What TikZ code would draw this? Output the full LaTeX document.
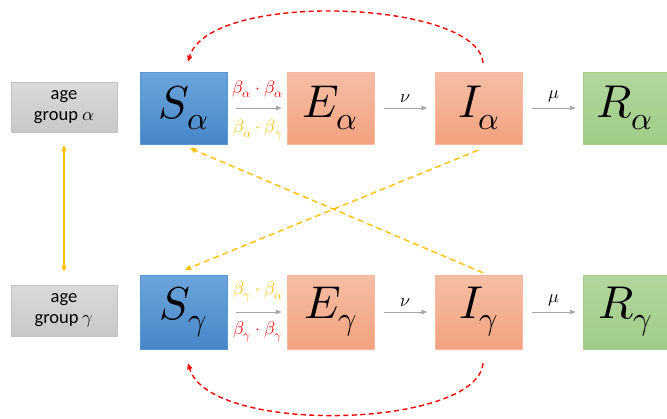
\documentclass[tikz,border=0pt]{standalone}
\usepackage{fontspec}
\usepackage{unicode-math}
\setmathfont{Latin Modern Math}
\newfontfamily\carl{Carlito}
\usetikzlibrary{arrows.meta,calc}
\definecolor{myyellow}{HTML}{FFC000}
\definecolor{myred}{HTML}{FF0000}
\definecolor{mygray}{HTML}{A6A6A6}
\begin{document}
\begin{tikzpicture}[x=1pt,y=-1pt,
  comp/.style={minimum width=87pt,minimum height=72pt,inner sep=0pt,font=\fontsize{46}{46}\selectfont},
  sbox/.style={comp,shading=axis,top color={rgb,255:red,108;green,164;blue,220},bottom color={rgb,255:red,70;green,135;blue,200},draw={rgb,255:red,90;green,150;blue,210},line width=0.4pt},
  eibox/.style={comp,shading=axis,top color={rgb,255:red,245;green,190;blue,165},bottom color={rgb,255:red,243;green,162;blue,127},draw={rgb,255:red,245;green,185;blue,160},line width=0.4pt},
  rbox/.style={comp,shading=axis,top color={rgb,255:red,178;green,214;blue,158},bottom color={rgb,255:red,160;green,204;blue,135},draw={rgb,255:red,165;green,205;blue,140},line width=0.4pt},
  agebox/.style={minimum width=106pt,minimum height=50pt,inner sep=0pt,align=center,font=\carl\fontsize{18.5}{21}\selectfont,shading=axis,top color={rgb,255:red,218;green,218;blue,218},bottom color={rgb,255:red,200;green,200;blue,200},draw={rgb,255:red,195;green,195;blue,195}},
  flow/.style={draw=mygray,line width=0.9pt,-{Triangle[length=6pt,width=4.5pt]}},
  flowlbl/.style={font=\fontsize{18}{18}\selectfont},
  betalbl/.style={font=\fontsize{18}{18}\selectfont},
  redarc/.style={draw=myred,line width=1.4pt,dash pattern=on 5pt off 3.5pt,-{Triangle[length=6pt,width=5pt]}},
  yelarrow/.style={draw=myyellow,line width=1.4pt,dash pattern=on 6pt off 4pt,-{Triangle[length=6pt,width=5pt]}}
]
\useasboundingbox (0,0) rectangle (667,418);
\fill[white] (0,0) rectangle (667,418);

% top row
\node[agebox] (Aa) at (64,107) {age\\group $\alpha$};
\node[sbox] (Sa) at (183.5,108) {$S_\alpha$};
\node[eibox] (Ea) at (330.5,108) {$E_\alpha$};
\node[eibox] (Ia) at (479,108) {$I_\alpha$};
\node[rbox,minimum width=84pt] (Ra) at (625,108) {$R_\alpha$};

% bottom row
\node[agebox,minimum height=51pt] (Ag) at (64,310.5) {age\\group $\gamma$};
\node[sbox,minimum height=74pt] (Sg) at (183.5,312) {$S_\gamma$};
\node[eibox,minimum height=74pt] (Eg) at (330.5,312) {$E_\gamma$};
\node[eibox,minimum height=74pt] (Ig) at (479,312) {$I_\gamma$};
\node[rbox,minimum width=84pt,minimum height=74pt] (Rg) at (625,312) {$R_\gamma$};

% horizontal flows top
\draw[flow] ([xshift=9pt]Sa.east) -- ([xshift=-5pt]Ea.west);
\node[betalbl,text=myred] (ba1) at (258,89) {$\beta_\alpha\cdot\beta_\alpha$};
\node[betalbl,text=myyellow] (ba2) at (258,130) {$\beta_\alpha\cdot\beta_\gamma$};
\draw[flow] ([xshift=10pt]Ea.east) -- ([xshift=-8pt]Ia.west) node[midway,above=2pt,flowlbl] (nua) {$\nu$};
\draw[flow] ([xshift=9pt]Ia.east) -- ([xshift=-7pt]Ra.west) node[midway,above=2pt,flowlbl] (mua) {$\mu$};

% horizontal flows bottom
\draw[flow] ([xshift=9pt]Sg.east) -- ([xshift=-5pt]Eg.west);
\node[betalbl,text=myyellow] (bg1) at (258,292) {$\beta_\gamma\cdot\beta_\alpha$};
\node[betalbl,text=myred] (bg2) at (258,332) {$\beta_\gamma\cdot\beta_\gamma$};
\draw[flow] ([xshift=10pt]Eg.east) -- ([xshift=-8pt]Ig.west) node[midway,above=2pt,flowlbl] (nug) {$\nu$};
\draw[flow] ([xshift=9pt]Ig.east) -- ([xshift=-7pt]Rg.west) node[midway,above=2pt,flowlbl] (mug) {$\mu$};

% age double arrow
\draw[draw=myyellow,line width=1.2pt,{Triangle[length=6pt,width=5pt]}-{Triangle[length=6pt,width=5pt]}] ([yshift=-13pt]Aa.south) -- ([yshift=13pt]Ag.north);

% red arcs
\draw[redarc] ([xshift=4pt,yshift=9pt]Ia.north) .. controls (478,0) and (210,-10) .. ([xshift=4.5pt,yshift=10pt]Sa.north);
\draw[redarc] ([xshift=4pt,yshift=-14pt]Ig.south) .. controls (478,428) and (210,436) .. ([xshift=4.5pt,yshift=-14pt]Sg.south);

% yellow cross arrows
\draw[yelarrow] ([xshift=-1pt,yshift=-6pt]Ia.south) -- ([xshift=1.5pt,yshift=5pt]Sg.north);
\draw[yelarrow] ([xshift=4pt,yshift=2pt]Ig.north) -- ([xshift=6.5pt,yshift=-4pt]Sa.south);
\end{tikzpicture}
\end{document}
